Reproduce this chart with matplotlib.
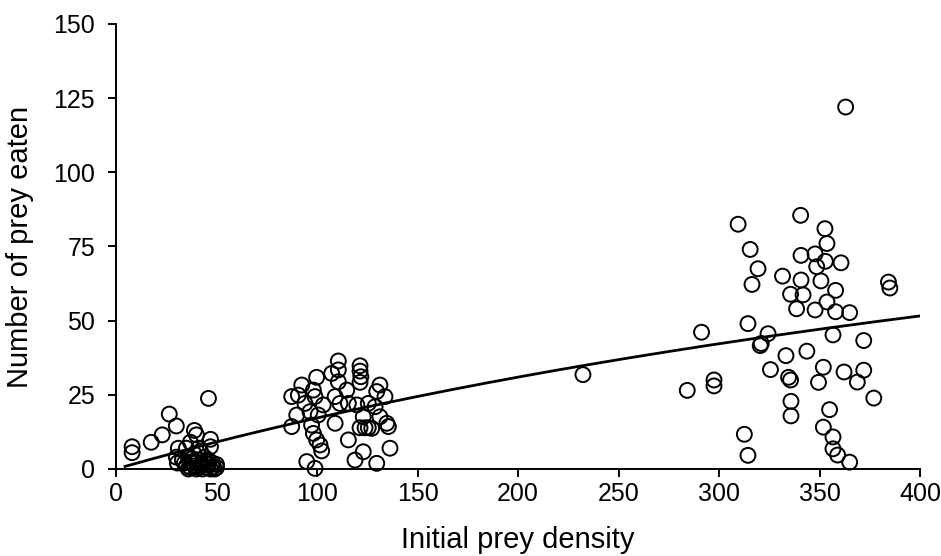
import numpy as np
import matplotlib
matplotlib.use("Agg")
import matplotlib.pyplot as plt

# Observed trials: initial prey density vs. prey eaten
low_density = [8, 8, 17.5, 23, 26.5, 30, 46, 31, 30, 30.5, 35, 37, 39, 40, 41, 47, 47,
               33, 35, 36, 37, 38, 39, 40, 41, 42, 42, 43, 44, 44, 45, 46, 46, 47, 48,
               48, 49, 50, 50, 36, 39, 43, 45, 41, 38, 34]
low_eaten = [7.5, 5.5, 9, 11.5, 18.5, 14.5, 23.8, 7, 4, 2, 7, 9, 13, 11.5, 7, 10, 7.5,
             3, 1, 4, 0.5, 2, 5, 0, 3, 1, 6, 0, 2, 4, 0.5, 1.5, 3, 0, 0.5,
             2, 0, 0.5, 1.5, 0, 1, 1.5, 2.5, 0.5, 3.5, 2]

mid_density = [110.6, 121.4, 121.4, 121.8, 121.4, 110.6, 107.3, 99.8, 92.4, 90.7, 87.4,
               98.2, 99, 110.6, 114.8, 109, 131.3, 129.7, 133.8, 94, 103.1, 111.4, 115.6,
               119.8, 125.5, 128.9, 89.9, 96.5, 100.6, 123, 131.3, 134.7, 135.5, 87.4,
               97.3, 109, 121.4, 123.9, 125.5, 127.2, 98.2, 99.8, 101.5, 102.3, 115.6,
               136.3, 123, 118.9, 94.9, 99, 129.7, 232.3]
mid_eaten = [36.4, 34.8, 33, 31.1, 29.2, 33.4, 32.2, 30.9, 28.3, 24.9, 24.4,
             26.6, 24.4, 29.4, 26.6, 24.4, 28.3, 26.1, 24.4, 22.1, 21.6, 22.1, 22.1,
             21.6, 22.1, 21, 18.2, 19.3, 18.2, 17.6, 17.6, 15.4, 14.3, 14.3,
             14.8, 15.4, 13.9, 13.9, 13.9, 13.7, 12, 9.8, 8.1, 6.1, 9.8,
             7, 5.8, 3, 2.5, 0.2, 1.9, 31.8]

high_density = [363, 340.6, 309.5, 352.7, 353.7, 315.5, 340.8, 347.8, 352.9, 360.7, 348.6,
                319.4, 331.6, 340.8, 350.7, 384.3, 385, 316.4, 335.6, 341.8, 358, 353.7,
                338.6, 347.8, 358, 365, 314.4, 291.3, 324.4, 321, 320.5, 356.7, 372,
                333.3, 343.7, 325.6, 351.9, 362.2, 372, 297.5, 297.5, 284.2, 334.6, 335.6,
                349.5, 368.8, 377, 335.8, 355, 335.8, 351.9, 356.7, 312.6, 356.7, 359,
                314.4, 365]
high_eaten = [122, 85.5, 82.5, 81, 76, 74, 72, 72.5, 70, 69.5, 68.2,
              67.5, 65, 63.7, 63.4, 63, 61, 62.2, 58.9, 58.7, 60.2, 56.3,
              54, 53.6, 53, 52.7, 49, 46.1, 45.6, 42.3, 41.6, 45.2, 43.3,
              38.2, 39.7, 33.5, 34.3, 32.7, 33.3, 30, 28, 26.5, 30.9, 30,
              29.2, 29.3, 23.9, 22.8, 20, 17.9, 14.1, 10.8, 11.7, 6.8, 4.7,
              4.6, 2.3]

# Fitted type II functional response: eaten = a*N / (1 + a*h*N)
attack_rate = 0.1936
handling_time = 0.00647
curve_start, curve_end = 4.5, 400

density = np.array(low_density + mid_density + high_density)
eaten = np.array(low_eaten + mid_eaten + high_eaten)

plt.rcParams['font.family'] = ['Liberation Sans', 'DejaVu Sans']

fig = plt.figure(figsize=(9.41, 5.56), dpi=100)
ax = fig.add_axes([0.1233, 0.1565, 0.8544, 0.8004])

ax.scatter(density, eaten, s=115, facecolors='none', edgecolors='black',
           linewidths=1.4, clip_on=False, zorder=3)

n = np.linspace(curve_start, curve_end, 200)
fit = attack_rate * n / (1 + attack_rate * handling_time * n)
ax.plot(n, fit, color='black', linewidth=2, zorder=2)

ax.set_xlim(0, 400)
ax.set_ylim(0, 150)
ax.set_xticks(np.arange(0, 401, 50))
ax.set_yticks(np.arange(0, 151, 25))
ax.spines['top'].set_visible(False)
ax.spines['right'].set_visible(False)
ax.spines['left'].set_linewidth(1.4)
ax.spines['bottom'].set_linewidth(1.4)
ax.tick_params(axis='both', direction='out', length=6, width=1.4, labelsize=18)
ax.tick_params(axis='y', pad=9)
ax.set_xlabel('Initial prey density', fontsize=21, labelpad=14)
ax.set_ylabel('Number of prey eaten', fontsize=21, labelpad=14)

fig.savefig('out.png', dpi=100)
